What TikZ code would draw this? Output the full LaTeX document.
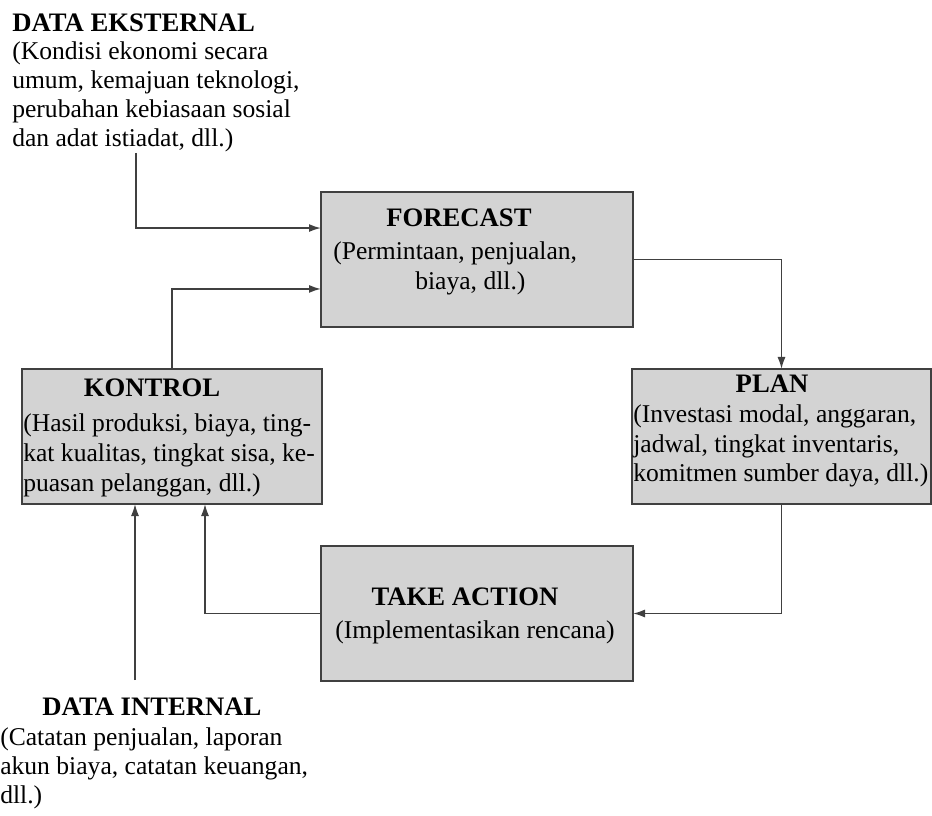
\documentclass[tikz,border=0pt]{standalone}
\usepackage{fontspec}
\setmainfont{Liberation Serif}
\usetikzlibrary{arrows.meta,calc}
\definecolor{boxfill}{HTML}{D3D3D3}
\definecolor{edge}{HTML}{404040}
\tikzset{
  box/.style={draw=edge, line width=1.5pt, fill=boxfill, inner sep=0pt, outer sep=0pt},
  txt/.style={inner sep=0pt, font=\fontsize{19.2}{22}\selectfont, text=black},
  ttl/.style={txt, font=\fontsize{20}{22}\selectfont\bfseries},
  arr/.style={draw=edge, line width=1.2pt, -{Latex[length=9pt,width=6pt]}},
}
\begin{document}
\begin{tikzpicture}[x=0.75pt,y=-0.75pt]
\useasboundingbox (0,0) rectangle (932,816);
% boxes
\node[box, minimum width=234pt, minimum height=101.25pt] (forecast) at (477,259.5) {};
\node[box, minimum width=225pt, minimum height=101.25pt] (kontrol) at (172,436.5) {};
\node[box, minimum width=224.25pt, minimum height=101.25pt] (plan) at (781.5,436.5) {};
\node[box, minimum width=234pt, minimum height=101.25pt] (action) at (477,613.5) {};
% box texts
\node[ttl, anchor=base] (t1) at (459,227) {FORECAST};
\node[txt, anchor=base west] (t2) at (333,260) {(Permintaan, penjualan,};
\node[txt, anchor=base west] (t3) at (415,290) {biaya, dll.)};
\node[ttl, anchor=base] (k1) at (152,397) {KONTROL};
\node[txt, anchor=base west] (k2) at (23,432) {(Hasil produksi, biaya, ting-};
\node[txt, anchor=base west] (k3) at (23,462) {kat kualitas, tingkat sisa, ke-};
\node[txt, anchor=base west] (k4) at (23,492) {puasan pelanggan, dll.)};
\node[ttl, anchor=base] (p1) at (772,393) {PLAN};
\node[txt, anchor=base west] (p2) at (633,423) {(Investasi modal, anggaran,};
\node[txt, anchor=base west] (p3) at (633,453) {jadwal, tingkat inventaris,};
\node[txt, anchor=base west] (p4) at (633,482) {komitmen sumber daya, dll.)};
\node[ttl, anchor=base] (a1) at (465,605) {TAKE ACTION};
\node[txt, anchor=base] (a2) at (475,638) {(Implementasikan rencana)};
% external data
\node[ttl, anchor=base west] (e1) at (12,32) {DATA EKSTERNAL};
\node[txt, anchor=base west] (e2) at (12,60) {(Kondisi ekonomi secara};
\node[txt, anchor=base west] (e3) at (12,89) {umum, kemajuan teknologi,};
\node[txt, anchor=base west] (e4) at (12,118) {perubahan kebiasaan sosial};
\node[txt, anchor=base west] (e5) at (12,147) {dan adat istiadat, dll.)};
% internal data
\node[ttl, anchor=base] (i1) at (152,715) {DATA INTERNAL};
\node[txt, anchor=base west] (i2) at (0,745) {(Catatan penjualan, laporan};
\node[txt, anchor=base west] (i3) at (0,774) {akun biaya, catatan keuangan,};
\node[txt, anchor=base west] (i4) at (0,803) {dll.)};
% connectors
\coordinate (extstart) at (136,153);
\coordinate (intstart) at (135,680);
\draw[arr] (extstart) |- ([yshift=23.6pt]forecast.west);
\draw[arr] (kontrol.north) |- ([yshift=-22.1pt]forecast.west);
\draw[arr] (forecast.east) -| (plan.north);
\draw[arr] (plan.south) |- (action.east);
\draw[arr] (action.west) -| ([xshift=24.75pt]kontrol.south);
\draw[arr] (intstart) -- ([xshift=-27.75pt]kontrol.south);
\end{tikzpicture}
\end{document}
